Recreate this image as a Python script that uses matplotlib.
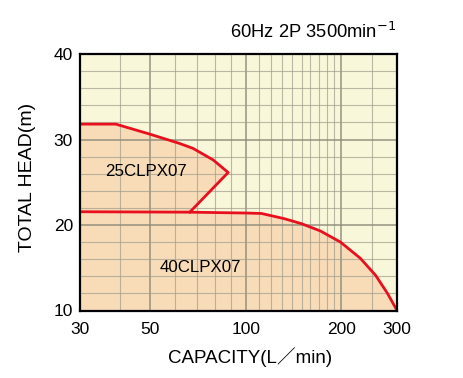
import matplotlib.pyplot as plt
from matplotlib.ticker import NullFormatter

plt.rcParams['font.family'] = ['Liberation Sans', 'Noto Sans CJK JP']

# pump curves (capacity L/min, head m)
q25 = [30, 38.9, 49.8, 61.8, 68.2, 79, 88, 66.6]
h25 = [31.8, 31.8, 30.63, 29.54, 28.96, 27.6, 26.14, 21.5]

q40 = [30, 66.6, 100, 112, 120, 132, 150, 172, 199, 230, 257, 280, 300]
h40 = [21.55, 21.5, 21.4, 21.35, 21.1, 20.75, 20.15, 19.3, 18.0, 16.1, 14.1, 12.0, 10.0]

xticks = [30, 50, 100, 200, 300]
xminor = [40, 60, 70, 80, 90, 110, 120, 130, 140, 150, 160, 170, 180, 190, 250]
yticks = [10, 20, 30, 40]
yminor = [12, 14, 16, 18, 22, 24, 26, 28, 32, 34, 36, 38]

fill = '#F8DCB8'
red = '#E8101E'

fig = plt.figure(figsize=(4.63, 3.78), dpi=100)
ax = fig.add_axes([80/463, 1-310.5/378, 317/463, 256.5/378])
ax.set_facecolor('#F8F7DA')

ax.fill(q25 + [30], h25 + [21.55], color=fill, lw=0, zorder=1)
ax.fill_between(q40, h40, 10, color=fill, lw=0, zorder=1)
ax.plot(q25, h25, color=red, lw=2, zorder=3)
ax.plot(q40, h40, color=red, lw=2, zorder=3)

ax.set_xscale('log')
ax.set_xlim(30, 300)
ax.set_ylim(10, 40)
ax.set_xticks(xticks)
ax.set_xticklabels([str(v) for v in xticks])
ax.set_xticks(xminor, minor=True)
ax.xaxis.set_minor_formatter(NullFormatter())
ax.set_yticks(yticks)
ax.set_yticks(yminor, minor=True)
ax.tick_params(which='both', length=0, labelsize=12.5)
ax.tick_params(axis='x', pad=8)
ax.tick_params(axis='y', pad=5)

ax.set_axisbelow(False)
ax.grid(which='major', color='#8F8C7A', lw=1.3, alpha=0.8)
ax.grid(which='minor', color='#A09E8C', lw=0.8, alpha=0.7)
for s in ax.spines.values():
    s.set_linewidth(1.6)
    s.set_zorder(4)

ax.text(146/463, 1-172/378, '25CLPX07', transform=fig.transFigure,
        ha='center', va='center', fontsize=12.2)
ax.text(200/463, 1-268/378, '40CLPX07', transform=fig.transFigure,
        ha='center', va='center', fontsize=12.2)

fig.text(396/463, 1-32/378, r'60Hz 2P 3500min$^{-1}$', ha='right', va='center',
         fontsize=13.2)
fig.text(28/463, 1-177/378, 'TOTAL HEAD(m)', rotation=90, ha='center',
         va='center', fontsize=14)
fig.text(250/463, 1-357/378, 'CAPACITY(L／min)', ha='center', va='center',
         fontsize=13.5)

fig.savefig('out.png', dpi=100)
